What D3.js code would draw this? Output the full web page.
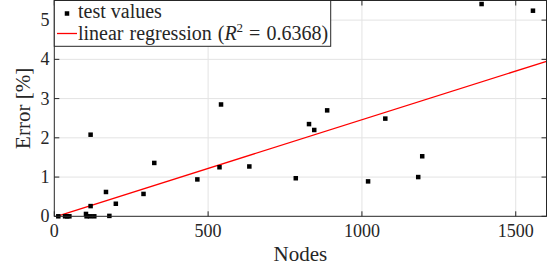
<!DOCTYPE html>
<html lang="en">
<head>
<meta charset="utf-8"/>
<title>Error vs Nodes</title>
<script src="https://d3js.org/d3.v7.min.js"></script>
<style>
body { margin: 0; background: #fff; }
text { font-family: "Liberation Serif", "DejaVu Serif", serif; fill: #262626; }
.grid line { stroke: #e3e3e3; stroke-width: 1; }
.frame { fill: none; stroke: #262626; stroke-width: 1; }
.tick-mark { stroke: #262626; stroke-width: 1; }
.tickLabel { font-size: 18px; }
.axisLabel { font-size: 21px; }
.legendText { font-size: 20px; }
.regLine { fill: none; stroke: #ff0000; stroke-width: 1.3; }
</style>
</head>
<body>
<div id="chart"></div>
<script>
// values
var nodes = [13, 35, 42, 49, 103, 105, 116, 130, 118, 118, 168, 179, 200, 290, 325,
             465, 537, 542, 634, 785, 828, 845, 887, 1020, 1076, 1183, 1196, 1389, 1556];
var errors = [0, 0, 0, 0, 0.06, 0, 0, 0, 0.26, 2.08, 0.62, 0.01, 0.32, 0.57, 1.36,
              0.94, 1.25, 2.85, 1.27, 0.97, 2.35, 2.20, 2.70, 0.89, 2.49, 1.00, 1.53, 5.41, 5.24];
// regression line end points
var regX = [8, 1600];
var regY = [0.0, 3.95];

var xTicks = [0, 500, 1000, 1500];
var yTicks = [0, 1, 2, 3, 4, 5];

var w = 552, h = 271;
var pLeft = 54.3, pRight = 546.5, pTop = 0.5, pBottom = 216.3;

var svg = d3.select("#chart").append("svg")
    .attr("width", w).attr("height", h);

var xScale = d3.scaleLinear().domain([0, 1600]).range([pLeft, pRight]);
var yScale = d3.scaleLinear().domain([0, 5.5]).range([pBottom, pTop]);

// grid
var grid = svg.append("g").attr("class", "grid");
grid.selectAll(".gx").data(xTicks.filter(function(d){return d > 0;})).enter()
    .append("line")
    .attr("x1", function(d){return xScale(d);}).attr("x2", function(d){return xScale(d);})
    .attr("y1", pTop).attr("y2", pBottom);
grid.selectAll(".gy").data(yTicks.filter(function(d){return d > 0;})).enter()
    .append("line")
    .attr("x1", pLeft).attr("x2", pRight)
    .attr("y1", function(d){return yScale(d);}).attr("y2", function(d){return yScale(d);});

// inward tick marks on all four sides
var tl = 5;
var ticks = svg.append("g");
xTicks.forEach(function(d){
    ticks.append("line").attr("class", "tick-mark")
        .attr("x1", xScale(d)).attr("x2", xScale(d)).attr("y1", pBottom).attr("y2", pBottom - tl);
    ticks.append("line").attr("class", "tick-mark")
        .attr("x1", xScale(d)).attr("x2", xScale(d)).attr("y1", pTop).attr("y2", pTop + tl);
});
yTicks.forEach(function(d){
    ticks.append("line").attr("class", "tick-mark")
        .attr("x1", pLeft).attr("x2", pLeft + tl).attr("y1", yScale(d)).attr("y2", yScale(d));
    ticks.append("line").attr("class", "tick-mark")
        .attr("x1", pRight).attr("x2", pRight - tl).attr("y1", yScale(d)).attr("y2", yScale(d));
});

// regression line
svg.append("path")
    .datum(regX.map(function(x, i){return [x, regY[i]];}))
    .attr("class", "regLine")
    .attr("d", d3.line().x(function(d){return xScale(d[0]);}).y(function(d){return yScale(d[1]);}));

// points
var s = 4.5;
svg.selectAll(".pt").data(nodes).enter()
    .append("rect")
    .attr("x", function(d){return xScale(d) - s / 2;})
    .attr("y", function(d, i){return yScale(errors[i]) - s / 2;})
    .attr("width", s).attr("height", s)
    .attr("fill", "#000");

// frame
svg.append("rect").attr("class", "frame")
    .attr("x", pLeft).attr("y", pTop).attr("width", pRight - pLeft).attr("height", pBottom - pTop);

// tick labels
svg.selectAll(".xl").data(xTicks).enter()
    .append("text").attr("class", "tickLabel")
    .attr("x", function(d){return xScale(d);}).attr("y", 237)
    .attr("text-anchor", "middle")
    .text(function(d){return d;});
svg.selectAll(".yl").data(yTicks).enter()
    .append("text").attr("class", "tickLabel")
    .attr("x", 49.5).attr("y", function(d){return yScale(d) + 6;})
    .attr("text-anchor", "end")
    .text(function(d){return d;});

// axis labels
svg.append("text").attr("class", "axisLabel")
    .attr("x", (pLeft + pRight) / 2).attr("y", 260.5)
    .attr("text-anchor", "middle").text("Nodes");
svg.append("text").attr("class", "axisLabel")
    .attr("transform", "translate(30," + ((pTop + pBottom) / 2) + ") rotate(-90)")
    .attr("text-anchor", "middle").text("Error [%]");

// legend
var lg = svg.append("g");
lg.append("rect")
    .attr("x", pLeft).attr("y", pTop).attr("width", 276.4).attr("height", 45.8)
    .attr("fill", "#fff").attr("stroke", "#262626").attr("stroke-width", 1);
lg.append("rect")
    .attr("x", 67 - s / 2).attr("y", 13.5 - s / 2).attr("width", s).attr("height", s)
    .attr("fill", "#000");
lg.append("line")
    .attr("x1", 57).attr("x2", 77).attr("y1", 33.5).attr("y2", 33.5)
    .attr("stroke", "#ff0000").attr("stroke-width", 1.3);
lg.append("text").attr("class", "legendText")
    .attr("x", 78).attr("y", 17.5).text("test values");
var t2 = lg.append("text").attr("class", "legendText")
    .attr("x", 78).attr("y", 39.5).attr("word-spacing", "1px");
t2.append("tspan").text("linear regression (");
t2.append("tspan").attr("font-style", "italic").text("R");
t2.append("tspan").attr("font-size", "13px").attr("dy", -8).text("2");
t2.append("tspan").attr("dy", 8).text(" = 0.6368)");
</script>
</body>
</html>
